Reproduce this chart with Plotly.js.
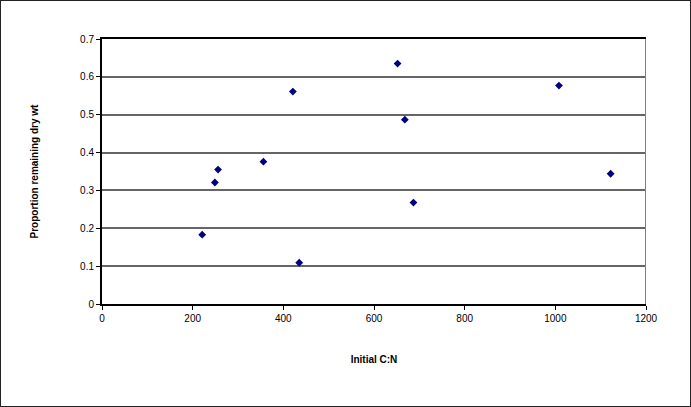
<!DOCTYPE html>
<html>
<head>
<meta charset="utf-8">
<script src="https://cdn.plot.ly/plotly-3.0.1.min.js"></script>
<style>
  html, body { margin: 0; padding: 0; background: #fff; }
  #wrap { position: relative; width: 691px; height: 407px; }
  #chart { width: 691px; height: 407px; }
  #frame { position: absolute; left: 0; top: 0; width: 691px; height: 407px; box-sizing: border-box; border: 1px solid #222; pointer-events: none; }
</style>
</head>
<body>
<div id="wrap"><div id="chart"></div><div id="frame"></div></div>
<script>
const initialCN = [221, 249, 256, 356, 421, 435, 652, 668, 687, 1008, 1122];
const propRemaining = [0.183, 0.321, 0.355, 0.376, 0.561, 0.109, 0.635, 0.487, 0.268, 0.577, 0.344];
const xTicks = [0, 200, 400, 600, 800, 1000, 1200];
const yTicks = [0, 0.1, 0.2, 0.3, 0.4, 0.5, 0.6, 0.7];
const yTickText = ['0', '0.1', '0.2', '0.3', '0.4', '0.5', '0.6', '0.7'];

const trace = {
  x: initialCN,
  y: propRemaining,
  type: 'scatter',
  mode: 'markers',
  marker: { symbol: 'diamond', size: 6, color: '#000080' },
  hoverinfo: 'x+y'
};

const layout = {
  width: 691, height: 407,
  margin: { l: 102, r: 45, t: 39, b: 103 },
  paper_bgcolor: '#ffffff',
  plot_bgcolor: '#ffffff',
  showlegend: false,
  font: { family: 'Arial, "Liberation Sans", sans-serif', size: 10, color: '#000' },
  xaxis: {
    range: [0, 1200],
    tickvals: xTicks,
    ticktext: xTicks.map(String),
    ticks: 'outside', ticklen: 4, tickcolor: '#000',
    showgrid: false, zeroline: false,
    showline: true, linecolor: '#000', linewidth: 2, mirror: true,
    tickfont: { size: 10, color: '#000' },
    title: { text: '<b>Initial C:N</b>', font: { size: 10, color: '#000' }, standoff: 33 }
  },
  yaxis: {
    range: [0, 0.7],
    tickvals: yTicks,
    ticktext: yTickText,
    ticks: 'outside', ticklen: 4, tickcolor: '#000',
    showgrid: true, gridcolor: '#666', gridwidth: 2,
    zeroline: false,
    showline: true, linecolor: '#000', linewidth: 2,
    tickfont: { size: 10, color: '#000' },
    title: { text: '<b>Proportion remaining dry wt</b>', font: { size: 10, color: '#000' }, standoff: 40 }
  },
  shapes: [
    { type: 'line', xref: 'x', yref: 'y', x0: 1200, x1: 1200, y0: 0, y1: 0.7, line: { color: '#808080', width: 2 } }
  ]
};

Plotly.newPlot('chart', [trace], layout, { displayModeBar: false, staticPlot: true });
</script>
</body>
</html>
